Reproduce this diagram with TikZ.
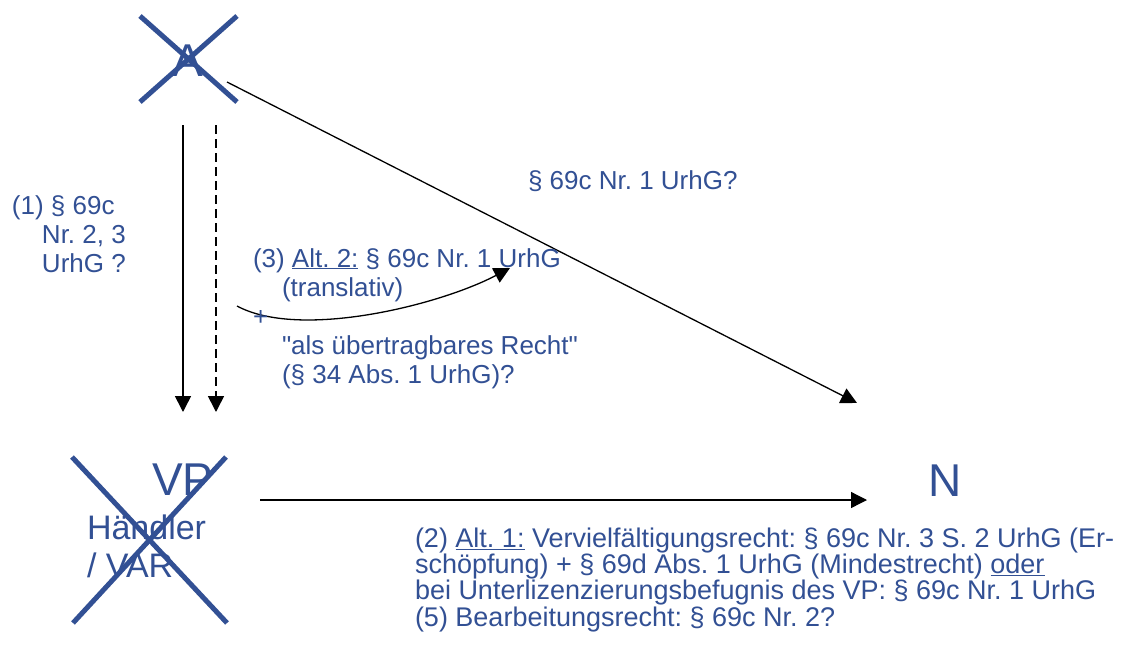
\documentclass[tikz,border=0pt]{standalone}
\usepackage{fontspec}
\setmainfont{Liberation Sans}
\usetikzlibrary{arrows.meta}
\definecolor{inkblue}{RGB}{50,80,148}
\frenchspacing
\tikzset{
  lbl/.style={text=inkblue, inner sep=0pt, outer sep=0pt, anchor=base west, align=left},
  txt/.style={lbl, font=\fontsize{26}{29}\selectfont},
  small/.style={lbl, font=\fontsize{27}{24.7}\selectfont},
  big/.style={text=inkblue, inner sep=0pt, font=\fontsize{46}{50}\selectfont},
  strike/.style={draw=inkblue, line width=5pt},
  conn/.style={draw=black, line width=1.6pt, -{Triangle[length=16pt,width=16pt]}},
}
\begin{document}
\begin{tikzpicture}[x=1pt,y=-1pt]
\useasboundingbox (0,0) rectangle (1127,653);

% parties
\node[big, anchor=base] (A) at (188,76) {A};
\node[big, anchor=base west] (VP) at (152,495) {VP};
% multi-line nodes are placed by the baseline of their last line
\node[lbl, font=\fontsize{34}{38}\selectfont] (haendler) at (87,577) {Händler\\/ VAR};
\node[big, anchor=base west] (N) at (928,496) {N};

% struck-out parties
\draw[strike] (140,16) -- (237,102);
\draw[strike] (237,16) -- (140,102);
\draw[strike] (72,457) -- (227,623);
\draw[strike] (226,457) -- (73,623);

% connector end points
\coordinate (a1) at (183,125);  \coordinate (v1) at (183,412);
\coordinate (a2) at (216,125);  \coordinate (v2) at (216,412);
\coordinate (a3) at (227,82);   \coordinate (n1) at (857,403);
\coordinate (v3) at (260,500);  \coordinate (n2) at (867,500);
\coordinate (c0) at (237,306);  \coordinate (c1) at (510,268);

% connectors
\draw[conn] (a1) -- (v1);
\draw[conn, dash pattern=on 9pt off 5pt] (a2) -- (v2);
\draw[conn, line width=1.3pt] (a3) -- (n1);
\draw[conn, line width=1.3pt] (v3) -- (n2);
\draw[conn, line width=1.3pt] (c0) .. controls (300,340) and (440,305) .. (c1);

% labels
\node[txt] (l1) at (12,272) {(1) § 69c\\\hspace*{30pt}Nr. 2, 3\\\hspace*{30pt}UrhG ?};
\node[txt] (lA) at (528,189) {§ 69c Nr. 1 UrhG?};
\node[txt] (l3) at (253,383) {(3) \underline{Alt. 2:} § 69c Nr. 1 UrhG\\
  \hspace*{29pt}(translativ)\\
  +\\
  \hspace*{29pt}\textquotedbl als übertragbares Recht\textquotedbl\\
  \hspace*{29pt}(§ 34 Abs. 1 UrhG)?};
\node[small] (l2) at (415,626) {(2) \underline{Alt. 1:} Vervielfältigungsrecht: § 69c Nr. 3 S. 2 UrhG (Er-\\
  schöpfung) + § 69d Abs. 1 UrhG (Mindestrecht) \underline{oder}\\
  bei Unterlizenzierungsbefugnis des VP: § 69c Nr. 1 UrhG\\
  (5) Bearbeitungsrecht: § 69c Nr. 2?};
\end{tikzpicture}
\end{document}
